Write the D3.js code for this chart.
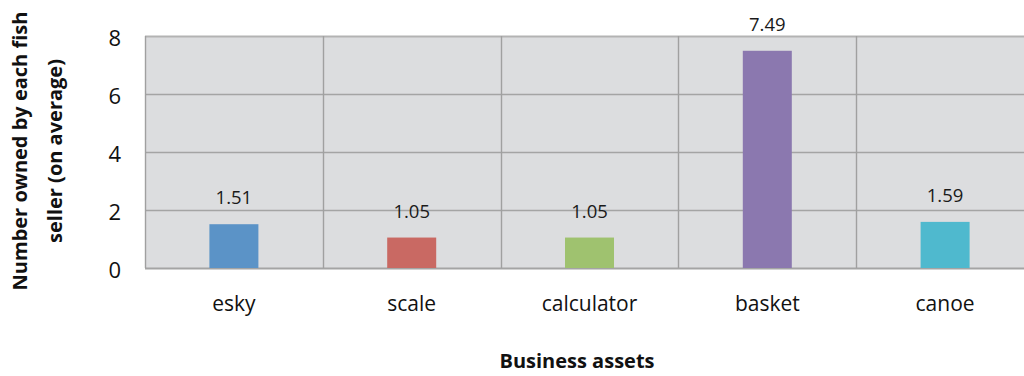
<!DOCTYPE html>
<html>
<head>
<meta charset="utf-8">
<script src="https://cdn.jsdelivr.net/npm/d3@7"></script>
<style>
  html, body { margin: 0; padding: 0; background: #fff; }
  svg { display: block; font-family: "Open Sans", "DejaVu Sans", sans-serif; }
</style>
</head>
<body>
<svg id="chart" width="1024" height="376"></svg>
<script>
// Average number of each business asset owned per fish seller
const categories = ["esky", "scale", "calculator", "basket", "canoe"];
const values = [1.51, 1.05, 1.05, 7.49, 1.59];
const barColors = ["#5B93C7", "#C96963", "#9FC26F", "#8B78AF", "#4FB9CE"];
const yTicks = [0, 2, 4, 6, 8];
const yTitleLines = ["Number owned by each fish", "seller (on average)"];
const xTitle = "Business assets";

const svg = d3.select("#chart");
const plot = { left: 145, right: 1034, top: 36, bottom: 268 };

const x = d3.scaleBand()
  .domain(categories)
  .range([plot.left, plot.right])
  .paddingInner(0)
  .paddingOuter(0);

const y = d3.scaleLinear()
  .domain([0, 8])
  .range([plot.bottom, plot.top]);

// plot background
svg.append("rect")
  .attr("x", plot.left)
  .attr("y", plot.top)
  .attr("width", plot.right - plot.left)
  .attr("height", plot.bottom - plot.top)
  .attr("fill", "#DCDDDF");

// horizontal gridlines
svg.append("g")
  .selectAll("line")
  .data(yTicks)
  .join("line")
  .attr("x1", plot.left)
  .attr("x2", plot.right)
  .attr("y1", d => Math.round(y(d)) + 0.5)
  .attr("y2", d => Math.round(y(d)) + 0.5)
  .attr("stroke", d => d === 8 ? "#B3B3B3" : "#A4A4A4")
  .attr("stroke-width", d => (d === 8 || d === 0) ? 2 : 1.4);

// vertical category dividers
const dividers = categories.map(c => x(c)).concat([plot.right]);
svg.append("g")
  .selectAll("line")
  .data(dividers)
  .join("line")
  .attr("x1", d => Math.round(d) + 0.5)
  .attr("x2", d => Math.round(d) + 0.5)
  .attr("y1", plot.top)
  .attr("y2", plot.bottom)
  .attr("stroke", "#A0A0A0")
  .attr("stroke-width", 1.4);

// bars
const barW = 49;
svg.append("g")
  .selectAll("rect")
  .data(categories)
  .join("rect")
  .attr("x", d => x(d) + x.bandwidth() / 2 - barW / 2)
  .attr("y", (d, i) => y(values[i]))
  .attr("width", barW)
  .attr("height", (d, i) => y(0) - y(values[i]))
  .attr("fill", (d, i) => barColors[i]);

// value labels
svg.append("g")
  .selectAll("text")
  .data(categories)
  .join("text")
  .attr("x", d => x(d) + x.bandwidth() / 2)
  .attr("y", (d, i) => y(values[i]) - 20)
  .attr("text-anchor", "middle")
  .attr("font-size", 18.5)
  .attr("fill", "#1a1a1a")
  .text((d, i) => values[i].toFixed(2));

// y tick labels
svg.append("g")
  .selectAll("text")
  .data(yTicks)
  .join("text")
  .attr("x", 121)
  .attr("y", d => y(d) + 4)
  .attr("text-anchor", "end")
  .attr("dominant-baseline", "middle")
  .attr("font-size", 22)
  .attr("fill", "#111")
  .text(d => d);

// category labels
svg.append("g")
  .selectAll("text")
  .data(categories)
  .join("text")
  .attr("x", d => x(d) + x.bandwidth() / 2)
  .attr("y", 311)
  .attr("text-anchor", "middle")
  .attr("font-size", 21)
  .attr("fill", "#111")
  .text(d => d);

// x axis title
svg.append("text")
  .attr("x", 577)
  .attr("y", 368)
  .attr("text-anchor", "middle")
  .attr("font-size", 20)
  .attr("font-weight", "bold")
  .attr("fill", "#111")
  .text(xTitle);

// y axis title (two rotated lines)
const yTitle = svg.append("text")
  .attr("transform", "translate(0,151) rotate(-90)")
  .attr("text-anchor", "middle")
  .attr("font-size", 20)
  .attr("font-weight", "bold")
  .attr("fill", "#111");
yTitle.selectAll("tspan")
  .data(yTitleLines)
  .join("tspan")
  .attr("x", 0)
  .attr("y", (d, i) => 27 + i * 35)
  .text(d => d);
</script>
</body>
</html>
